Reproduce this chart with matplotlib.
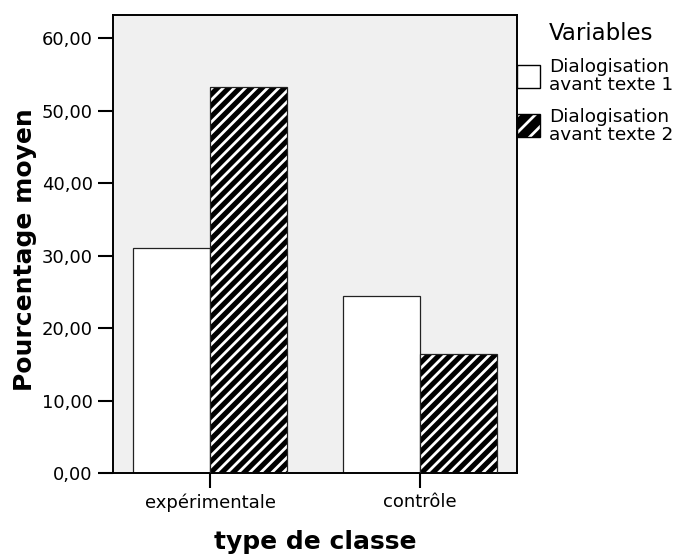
import matplotlib
matplotlib.use("Agg")
import matplotlib.pyplot as plt
from matplotlib.patches import Rectangle
import numpy as np

categories = ["expérimentale", "contrôle"]
series_names = ["Dialogisation\navant texte 1", "Dialogisation\navant texte 2"]
texte1 = [31.0, 24.4]
texte2 = [53.3, 16.4]
yticks = [0, 10, 20, 30, 40, 50, 60]
ytick_labels = ["0,00", "10,00", "20,00", "30,00", "40,00", "50,00", "60,00"]

plt.rcParams['font.family'] = ['DejaVu Sans']
plt.rcParams['hatch.linewidth'] = 2.0

W, H = 675, 554
fig = plt.figure(figsize=(W / 100, H / 100), dpi=100)
ax = fig.add_axes([113 / W, 1 - 473 / H, (517 - 113) / W, (473 - 15) / H])
ax.set_facecolor('#f0f0f0')

x = np.arange(len(categories))
bw = 0.369
ax.bar(x - bw / 2, texte1, width=bw, color='white', edgecolor='#222222', linewidth=0.9, zorder=2)
ax.bar(x + bw / 2, texte2, width=bw, color='black', edgecolor='white', hatch='///', linewidth=0, zorder=2)
ax.bar(x + bw / 2, texte2, width=bw, fill=False, edgecolor='#222222', linewidth=0.9, zorder=3)

ax.set_xlim(-0.462, 1.462)
ax.set_ylim(0, 63.2)
ax.set_xticks(x)
ax.set_xticklabels(categories, fontsize=13)
ax.set_yticks(yticks)
ax.set_yticklabels(ytick_labels, fontsize=13)
ax.tick_params(axis='both', direction='out', length=11, width=1.5, pad=3.5, colors='black')
for s in ax.spines.values():
    s.set_linewidth(1.4)
    s.set_color('black')

fig.text(25 / W, 1 - 250 / H, "Pourcentage moyen", rotation=90, fontsize=18,
         fontweight='bold', ha='center', va='center')
fig.text(315 / W, 1 - 542 / H, "type de classe", fontsize=18,
         fontweight='bold', ha='center', va='center')

# legend
fig.text(549 / W, 1 - 34 / H, "Variables", fontsize=16.5, ha='left', va='center')
boxes = [(65, 76), (114, 126)]
for i, (top, tc) in enumerate(boxes):
    if i == 0:
        fig.add_artist(Rectangle((517 / W, 1 - (top + 23) / H), 23 / W, 23 / H,
                                 transform=fig.transFigure, facecolor='white',
                                 edgecolor='black', linewidth=1.0))
    else:
        fig.add_artist(Rectangle((517 / W, 1 - (top + 23) / H), 23 / W, 23 / H,
                                 transform=fig.transFigure, facecolor='black',
                                 edgecolor='white', hatch='//', linewidth=0))
        fig.add_artist(Rectangle((517 / W, 1 - (top + 23) / H), 23 / W, 23 / H,
                                 transform=fig.transFigure, fill=False,
                                 edgecolor='black', linewidth=1.0))
    fig.text(549 / W, 1 - tc / H, series_names[i], fontsize=13.3, ha='left',
             va='center', linespacing=1.05)

fig.savefig("out.png", dpi=100)
